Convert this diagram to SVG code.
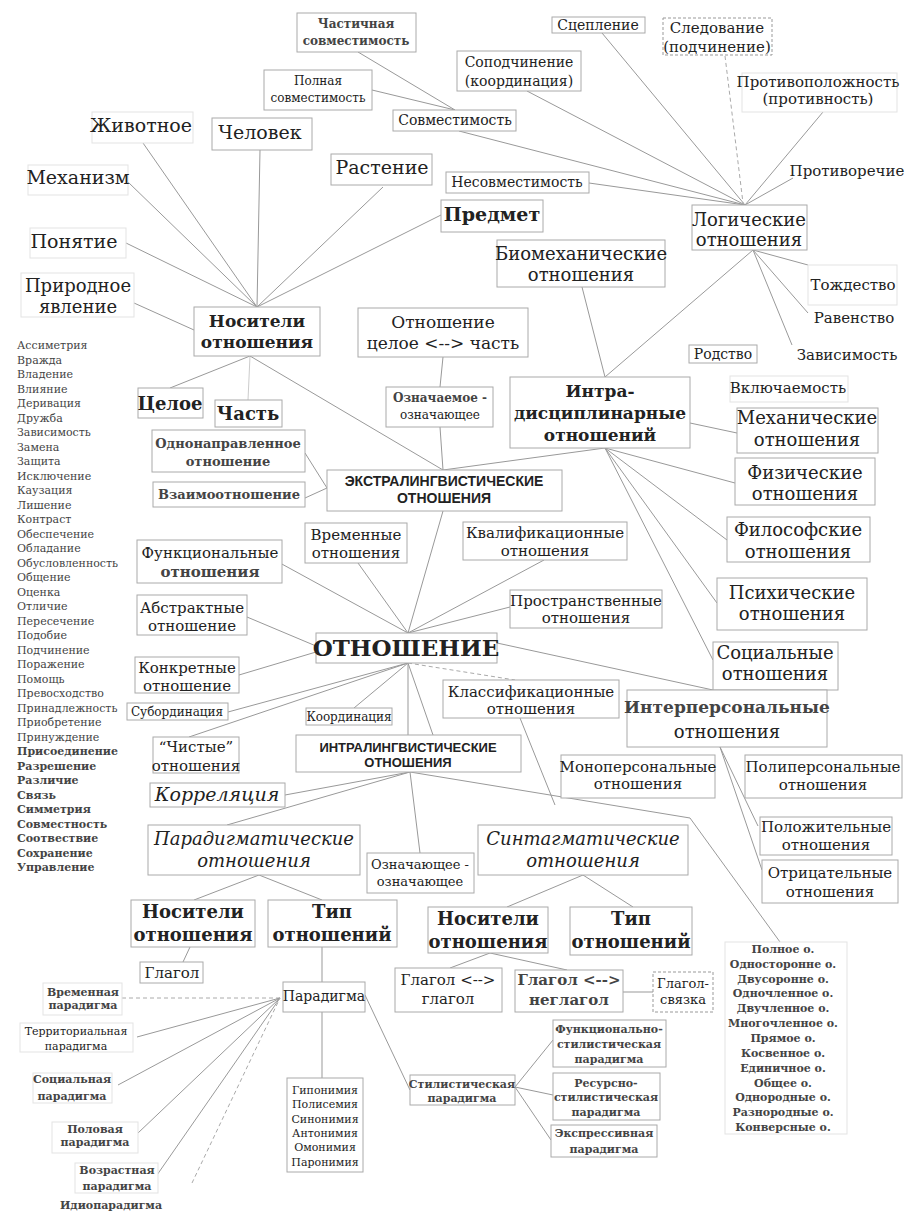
<svg xmlns="http://www.w3.org/2000/svg" width="905" height="1224" viewBox="0 0 905 1224">
<style>
text{font-family:"DejaVu Serif","Liberation Serif",serif;fill:#222;text-anchor:middle}
.b{fill:#fff;stroke:#aaa;stroke-width:1}
.bd{fill:#fff;stroke:#999;stroke-width:1;stroke-dasharray:3 2}
.bf{fill:#fff;stroke:#e3e3e3;stroke-width:1}
.c line,.c polyline{stroke:#999;stroke-width:1;fill:none}
.c .d{stroke-dasharray:4 3;stroke:#aaa}
.c .f{stroke:#ccc}
.s11{font-size:11px}.s12{font-size:12px}.s13{font-size:13px}.s14{font-size:14px}.s15{font-size:15px}
.s17{font-size:17px}.s18{font-size:18px}.s19{font-size:19px}.s20{font-size:20px}
.bo{font-weight:bold}.it{font-style:italic}.g{fill:#444}
.sans{font-family:"Liberation Sans","DejaVu Sans",sans-serif;font-weight:bold}
.l{text-anchor:start}
</style>
<rect width="905" height="1224" fill="#fff"/>
<g class="c" id="connectors">
<line x1="358" y1="52" x2="455" y2="110"/>
<line x1="372" y1="90" x2="455" y2="110"/>
<line x1="459" y1="131" x2="745" y2="205"/>
<line x1="527" y1="91" x2="745" y2="205"/>
<line x1="602" y1="33" x2="745" y2="205"/>
<line x1="589" y1="183" x2="745" y2="205"/>
<line class="d" x1="725" y1="56" x2="743" y2="203"/>
<line x1="823" y1="112" x2="745" y2="205"/>
<line x1="793" y1="178" x2="745" y2="205"/>
<line x1="753" y1="250" x2="808" y2="265"/>
<line x1="753" y1="250" x2="808" y2="313"/>
<line x1="753" y1="250" x2="792" y2="345"/>
<line x1="753" y1="250" x2="605" y2="377"/>
<line x1="582" y1="287" x2="605" y2="377"/>
<line x1="143" y1="143" x2="257" y2="307"/>
<line x1="260" y1="150" x2="257" y2="307"/>
<line x1="128" y1="182" x2="257" y2="307"/>
<line x1="383" y1="187" x2="257" y2="307"/>
<line x1="441" y1="215" x2="257" y2="307"/>
<line x1="126" y1="243" x2="257" y2="307"/>
<line x1="134" y1="303" x2="194" y2="330"/>
<line x1="250" y1="356" x2="170" y2="388"/>
<line class="f" x1="250" y1="356" x2="248" y2="400"/>
<line x1="250" y1="356" x2="443" y2="470"/>
<line x1="443" y1="357" x2="440" y2="387"/>
<line x1="440" y1="427" x2="443" y2="470"/>
<line x1="605" y1="448" x2="443" y2="470"/>
<line x1="305" y1="453" x2="327" y2="488"/>
<line x1="305" y1="498" x2="327" y2="488"/>
<line x1="690" y1="423" x2="737" y2="433"/>
<line x1="605" y1="448" x2="735" y2="483"/>
<line x1="605" y1="448" x2="727" y2="540"/>
<line x1="605" y1="448" x2="717" y2="603"/>
<line x1="605" y1="448" x2="713" y2="660"/>
<line x1="443" y1="511" x2="408" y2="633"/>
<line x1="280" y1="563" x2="408" y2="633"/>
<line x1="358" y1="563" x2="408" y2="633"/>
<line x1="544" y1="560" x2="408" y2="633"/>
<line x1="510" y1="607" x2="408" y2="633"/>
<line x1="247" y1="617" x2="316" y2="646"/>
<line x1="239" y1="675" x2="316" y2="652"/>
<line x1="497" y1="643" x2="713" y2="690"/>
<line x1="408" y1="663" x2="228" y2="712"/>
<line x1="408" y1="663" x2="189" y2="737"/>
<line x1="408" y1="663" x2="354" y2="708"/>
<line x1="408" y1="663" x2="408" y2="735"/>
<line x1="408" y1="663" x2="433" y2="735"/>
<line class="d" x1="408" y1="663" x2="515" y2="680"/>
<line x1="520" y1="718" x2="555" y2="805"/>
<line x1="410" y1="772" x2="285" y2="795"/>
<line x1="410" y1="772" x2="227" y2="825"/>
<line x1="410" y1="772" x2="420" y2="853"/>
<polyline points="410,772 690,818 780,942"/>
<line x1="720" y1="747" x2="758" y2="826"/>
<line x1="720" y1="747" x2="762" y2="870"/>
<line x1="259" y1="875" x2="194" y2="900"/>
<line x1="259" y1="875" x2="322" y2="900"/>
<line x1="583" y1="875" x2="507" y2="907"/>
<line x1="583" y1="875" x2="633" y2="907"/>
<line x1="190" y1="947" x2="183" y2="962"/>
<line x1="322" y1="947" x2="322" y2="982"/>
<line x1="490" y1="953" x2="450" y2="968"/>
<line x1="490" y1="953" x2="567" y2="970"/>
<line x1="623" y1="992" x2="653" y2="992"/>
<line class="d" x1="122" y1="998" x2="280" y2="998"/>
<line x1="137" y1="1037" x2="280" y2="998"/>
<line x1="118" y1="1085" x2="280" y2="998"/>
<line x1="138" y1="1133" x2="280" y2="998"/>
<line x1="157" y1="1175" x2="280" y2="998"/>
<line class="d" x1="192" y1="1183" x2="280" y2="998"/>
<line x1="322" y1="1012" x2="322" y2="1078"/>
<line x1="365" y1="995" x2="410" y2="1090"/>
<line x1="515" y1="1087" x2="553" y2="1040"/>
<line x1="515" y1="1087" x2="553" y2="1095"/>
<line x1="515" y1="1087" x2="551" y2="1140"/>
</g>

<g id="n-chastichnaya"><rect class="b" x="297" y="13" width="119" height="39"/><text class="s12 bo g" x="356" y="28">Частичная</text><text class="s12 bo g" x="356" y="45">совместимость</text></g>
<g id="n-polnaya"><rect class="b" x="264" y="70" width="108" height="40"/><text class="s12" x="318" y="85">Полная</text><text class="s12" x="318" y="102">совместимость</text></g>
<g id="n-sovmestimost"><rect class="b" x="393" y="110" width="123" height="21"/><text class="s14" x="455" y="125">Совместимость</text></g>
<g id="n-sopodchinenie"><rect class="b" x="457" y="51" width="124" height="40"/><text class="s14" x="519" y="67">Соподчинение</text><text class="s14" x="519" y="86">(координация)</text></g>
<g id="n-sceplenie"><rect class="b" x="552" y="17" width="93" height="16"/><text class="s14" x="598" y="30">Сцепление</text></g>
<g id="n-sledovanie"><rect class="bd" x="663" y="18" width="109" height="37"/><text class="s15" x="717" y="33">Следование</text><text class="s15" x="717" y="52">(подчинение)</text></g>
<g id="n-protivopolozhnost"><rect class="bf" x="742" y="73" width="155" height="39"/><text class="s15" x="818" y="87">Противоположность</text><text class="s15" x="818" y="104">(противность)</text></g>
<g id="n-protivorechie"><text class="s15" x="847" y="176">Противоречие</text></g>
<g id="n-logicheskie"><rect class="b" x="692" y="205" width="115" height="45"/><text class="s18" x="749" y="226">Логические</text><text class="s18" x="749" y="246">отношения</text></g>
<g id="n-tozhdestvo"><rect class="bf" x="808" y="265" width="89" height="40"/><text class="s15" x="853" y="290">Тождество</text></g>
<g id="n-ravenstvo"><text class="s15" x="854" y="323">Равенство</text></g>
<g id="n-zavisimost"><text class="s15" x="847" y="360">Зависимость</text></g>
<g id="n-rodstvo"><rect class="b" x="689" y="345" width="68" height="18"/><text class="s14" x="723" y="359">Родство</text></g>
<g id="n-vklyuchaemost"><rect class="bf" x="730" y="376" width="118" height="26"/><text class="s15" x="788" y="393">Включаемость</text></g>

<g id="n-zhivotnoe"><rect class="bf" x="92" y="112" width="101" height="31"/><text class="s19" x="141" y="132">Животное</text></g>
<g id="n-chelovek"><rect class="b" x="212" y="118" width="100" height="32"/><text class="s19" x="260" y="139">Человек</text></g>
<g id="n-mekhanizm"><rect class="bf" x="28" y="165" width="100" height="30"/><text class="s19" x="78" y="184">Механизм</text></g>
<g id="n-rastenie"><rect class="b" x="331" y="154" width="101" height="31"/><text class="s19" x="382" y="174">Растение</text></g>
<g id="n-nesovmestimost"><rect class="b" x="446" y="172" width="143" height="21"/><text class="s14" x="517" y="187">Несовместимость</text></g>
<g id="n-predmet"><rect class="b" x="441" y="200" width="102" height="32"/><text class="s19 bo" x="492" y="221">Предмет</text></g>
<g id="n-ponyatie"><rect class="bf" x="30" y="228" width="96" height="30"/><text class="s19" x="74" y="248">Понятие</text></g>
<g id="n-prirodnoe"><rect class="bf" x="21" y="273" width="113" height="44"/><text class="s18" x="78" y="292">Природное</text><text class="s18" x="78" y="313">явление</text></g>
<g id="n-biomekh"><rect class="b" x="497" y="240" width="168" height="47"/><text class="s18" x="581" y="260">Биомеханические</text><text class="s18" x="581" y="281">отношения</text></g>
<g id="n-nositeli"><rect class="b" x="194" y="307" width="126" height="49"/><text class="s17 bo" x="257" y="327">Носители</text><text class="s17 bo" x="257" y="348">отношения</text></g>
<g id="n-tseloe-chast"><rect class="b" x="358" y="308" width="170" height="49"/><text class="s17" x="443" y="328">Отношение</text><text class="s17" x="443" y="349">целое &lt;--&gt; часть</text></g>
<g id="n-tseloe"><rect class="b" x="138" y="388" width="65" height="30"/><text class="s18 bo" x="170" y="410">Целое</text></g>
<g id="n-chast"><rect class="b" x="215" y="400" width="67" height="27"/><text class="s18 bo" x="248" y="420">Часть</text></g>
<g id="n-oznachaemoe"><rect class="b" x="386" y="387" width="107" height="40"/><text class="s12 bo g" x="440" y="402">Означаемое -</text><text class="s12" x="440" y="419">означающее</text></g>
<g id="n-intradisc"><rect class="b" x="510" y="377" width="180" height="71"/><text class="s17 bo" x="600" y="397">Интра-</text><text class="s17 bo" x="600" y="419">дисциплинарные</text><text class="s17 bo" x="600" y="441">отношений</text></g>
<g id="n-mekhanicheskie"><rect class="b" x="737" y="408" width="141" height="45"/><text class="s18" x="807" y="424">Механические</text><text class="s18" x="807" y="446">отношения</text></g>
<g id="n-fizicheskie"><rect class="b" x="735" y="458" width="140" height="47"/><text class="s18" x="805" y="479">Физические</text><text class="s18" x="805" y="500">отношения</text></g>
<g id="n-filosofskie"><rect class="b" x="727" y="517" width="143" height="45"/><text class="s18" x="798" y="536">Философские</text><text class="s18" x="798" y="558">отношения</text></g>
<g id="n-psikhicheskie"><rect class="b" x="717" y="578" width="150" height="52"/><text class="s18" x="792" y="599">Психические</text><text class="s18" x="792" y="620">отношения</text></g>
<g id="n-socialnye"><rect class="b" x="713" y="642" width="125" height="48"/><text class="s18" x="775" y="659">Социальные</text><text class="s18" x="775" y="680">отношения</text></g>
<g id="n-odnonapr"><rect class="b" x="152" y="430" width="153" height="42"/><text class="s13 bo g" x="228" y="448">Однонаправленное</text><text class="s13 bo g" x="228" y="466">отношение</text></g>
<g id="n-vzaimo"><rect class="b" x="153" y="482" width="152" height="25"/><text class="s13 bo g" x="229" y="499">Взаимоотношение</text></g>
<g id="n-ekstra"><rect class="b" x="327" y="470" width="235" height="41"/><text class="sans s14" x="444" y="486">ЭКСТРАЛИНГВИСТИЧЕСКИЕ</text><text class="sans s14" x="444" y="503">ОТНОШЕНИЯ</text></g>
<g id="n-vremennye"><rect class="b" x="305" y="523" width="102" height="40"/><text class="s15" x="356" y="540">Временные</text><text class="s15" x="356" y="558">отношения</text></g>
<g id="n-kvalif"><rect class="b" x="463" y="522" width="164" height="38"/><text class="s15" x="545" y="538">Квалификационные</text><text class="s15" x="545" y="556">отношения</text></g>
<g id="n-funkc"><rect class="b" x="137" y="540" width="145" height="43"/><text class="s15" x="210" y="558">Функциональные</text><text class="s15 bo g" x="210" y="577">отношения</text></g>
<g id="n-abstr"><rect class="b" x="137" y="595" width="110" height="40"/><text class="s15" x="192" y="613">Абстрактные</text><text class="s15" x="192" y="631">отношение</text></g>
<g id="n-prostr"><rect class="b" x="510" y="590" width="152" height="38"/><text class="s15" x="586" y="606">Пространственные</text><text class="s15" x="586" y="623">отношения</text></g>
<g id="n-otnoshenie"><rect class="b" x="316" y="633" width="181" height="30"/><text class="bo" style="font-size:23px" x="406" y="656">ОТНОШЕНИЕ</text></g>
<g id="n-konkr"><rect class="b" x="135" y="657" width="104" height="36"/><text class="s15" x="187" y="673">Конкретные</text><text class="s15" x="187" y="691">отношение</text></g>
<g id="n-subord"><rect class="b" x="127" y="703" width="101" height="17"/><text class="s12" x="177" y="716">Субординация</text></g>
<g id="n-koord"><rect class="b" x="306" y="708" width="86" height="17"/><text class="s12" x="349" y="721">Координация</text></g>
<g id="n-klassif"><rect class="b" x="443" y="680" width="176" height="38"/><text class="s15" x="531" y="697">Классификационные</text><text class="s15" x="531" y="714">отношения</text></g>
<g id="n-interpers"><rect class="b" x="627" y="690" width="200" height="57"/><text class="s17 bo g" x="727" y="713">Интерперсональные</text><text class="s18" x="727" y="738">отношения</text></g>
<g id="n-chistye"><rect class="b" x="153" y="737" width="86" height="36"/><text class="s15" x="196" y="752">“Чистые”</text><text class="s15" x="196" y="771">отношения</text></g>
<g id="n-intraling"><rect class="b" x="296" y="735" width="225" height="37"/><text class="sans s13" x="408" y="752">ИНТРАЛИНГВИСТИЧЕСКИЕ</text><text class="sans s13" x="408" y="767">ОТНОШЕНИЯ</text></g>
<g id="n-mono"><rect class="b" x="561" y="755" width="154" height="43"/><text class="s15" x="638" y="772">Монoперсональные</text><text class="s15" x="638" y="789">отношения</text></g>
<g id="n-poli"><rect class="b" x="745" y="755" width="157" height="43"/><text class="s15" x="823" y="772">Полиперсональные</text><text class="s15" x="823" y="790">отношения</text></g>
<g id="n-polozh"><rect class="b" x="760" y="817" width="132" height="38"/><text class="s15" x="826" y="832">Положительные</text><text class="s15" x="826" y="850">отношения</text></g>
<g id="n-otric"><rect class="b" x="762" y="860" width="136" height="43"/><text class="s15" x="830" y="878">Отрицательные</text><text class="s15" x="830" y="897">отношения</text></g>
<g id="n-korrel"><rect class="b" x="150" y="783" width="135" height="24"/><text class="s19 it" x="217" y="801">Корреляция</text></g>
<g id="n-parad"><rect class="b" x="148" y="825" width="212" height="50"/><text class="s18 it" x="254" y="845">Парадигматические</text><text class="s18 it" x="254" y="867">отношения</text></g>
<g id="n-oznach2"><rect class="b" x="367" y="853" width="107" height="40"/><text class="s13" x="420" y="869">Означающее -</text><text class="s13" x="420" y="886">означающее</text></g>
<g id="n-sintag"><rect class="b" x="478" y="825" width="210" height="50"/><text class="s18 it" x="583" y="845">Синтагматические</text><text class="s18 it" x="583" y="867">отношения</text></g>
<g id="n-nos-left"><rect class="b" x="131" y="900" width="124" height="47"/><text class="s18 bo" x="193" y="918">Носители</text><text class="s18 bo" x="193" y="941">отношения</text></g>
<g id="n-tip-left"><rect class="b" x="268" y="900" width="129" height="47"/><text class="s18 bo" x="332" y="918">Тип</text><text class="s18 bo" x="332" y="941">отношений</text></g>
<g id="n-nos-right"><rect class="b" x="428" y="907" width="120" height="46"/><text class="s18 bo" x="488" y="925">Носители</text><text class="s18 bo" x="488" y="948">отношения</text></g>
<g id="n-tip-right"><rect class="b" x="570" y="907" width="122" height="48"/><text class="s18 bo" x="631" y="925">Тип</text><text class="s18 bo" x="631" y="948">отношений</text></g>
<g id="n-glagol"><rect class="b" x="140" y="962" width="63" height="21"/><text class="s15" x="172" y="978">Глагол</text></g>
<g id="n-gg"><rect class="b" x="395" y="968" width="107" height="44"/><text class="s15" x="448" y="985">Глагол &lt;--&gt;</text><text class="s15" x="448" y="1004">глагол</text></g>
<g id="n-gn"><rect class="b" x="515" y="970" width="108" height="42"/><text class="s15 bo g" x="569" y="985">Глагол &lt;--&gt;</text><text class="s15 bo g" x="569" y="1005">неглагол</text></g>
<g id="n-gsv"><rect class="bd" x="653" y="972" width="60" height="40"/><text class="s13" x="683" y="988">Глагол-</text><text class="s13" x="683" y="1004">связка</text></g>
<g id="n-paradigma"><rect class="b" x="283" y="982" width="82" height="30"/><text class="s14" x="324" y="1001">Парадигма</text></g>
<g id="n-vremennaya"><rect class="bf" x="43" y="983" width="79" height="32"/><text class="s11 bo g" x="83" y="996">Временная</text><text class="s11 bo g" x="83" y="1009">парадигма</text></g>
<g id="n-territ"><rect class="bf" x="20" y="1023" width="113" height="29"/><text class="s11" x="76" y="1035">Территориальная</text><text class="s11" x="76" y="1050">парадигма</text></g>
<g id="n-socialnaya"><rect class="bf" x="33" y="1073" width="79" height="30"/><text class="s11 bo g" x="72" y="1083">Социальная</text><text class="s11 bo g" x="72" y="1100">парадигма</text></g>
<g id="n-polovaya"><rect class="bf" x="52" y="1122" width="86" height="31"/><text class="s11 bo g" x="95" y="1133">Половая</text><text class="s11 bo g" x="95" y="1146">парадигма</text></g>
<g id="n-vozrast"><rect class="bf" x="75" y="1163" width="83" height="30"/><text class="s11 bo g" x="117" y="1174">Возрастная</text><text class="s11 bo g" x="117" y="1190">парадигма</text></g>
<g id="n-idio"><text class="s11 bo g" x="111" y="1209">Идиопарадигма</text></g>
<g id="n-giponimiya"><rect class="b" x="287" y="1078" width="76" height="94"/><text class="s11"><tspan x="325" y="1094">Гипонимия</tspan><tspan x="325" y="1108">Полисемия</tspan><tspan x="325" y="1123">Синонимия</tspan><tspan x="325" y="1137">Антонимия</tspan><tspan x="325" y="1151">Омонимия</tspan><tspan x="325" y="1166">Паронимия</tspan></text></g>
<g id="n-stilist"><rect class="b" x="410" y="1075" width="105" height="30"/><text class="s11 bo g" x="462" y="1088">Стилистическая</text><text class="s11 bo g" x="462" y="1102">парадигма</text></g>
<g id="n-funkc-stil"><rect class="b" x="553" y="1020" width="113" height="47"/><text class="s11 bo g" x="609" y="1033">Функционально-</text><text class="s11 bo g" x="609" y="1048">стилистическая</text><text class="s11 bo g" x="609" y="1063">парадигма</text></g>
<g id="n-resurs"><rect class="b" x="553" y="1073" width="107" height="47"/><text class="s11 bo g" x="606" y="1087">Ресурсно-</text><text class="s11 bo g" x="606" y="1101">стилистическая</text><text class="s11 bo g" x="606" y="1116">парадигма</text></g>
<g id="n-ekspress"><rect class="b" x="551" y="1125" width="106" height="32"/><text class="s11 bo g" x="604" y="1137">Экспрессивная</text><text class="s11 bo g" x="604" y="1153">парадигма</text></g>
<g id="n-polnoe"><rect class="bf" x="725" y="942" width="122" height="192"/><text class="s11 bo g"><tspan x="783" y="953">Полное о.</tspan><tspan x="783" y="968">Односторонне о.</tspan><tspan x="783" y="983">Двусоронне о.</tspan><tspan x="783" y="997">Одночленное о.</tspan><tspan x="783" y="1012">Двучленное о.</tspan><tspan x="783" y="1027">Многочленное о.</tspan><tspan x="783" y="1042">Прямое о.</tspan><tspan x="783" y="1057">Косвенное о.</tspan><tspan x="783" y="1072">Единичное о.</tspan><tspan x="783" y="1087">Общее о.</tspan><tspan x="783" y="1101">Однородные о.</tspan><tspan x="783" y="1116">Разнородные о.</tspan><tspan x="783" y="1131">Конверсные о.</tspan></text></g>
<g id="n-list"><text class="s11 l g"><tspan x="17" y="349">Ассиметрия</tspan><tspan x="17" y="363.5">Вражда</tspan><tspan x="17" y="378">Владение</tspan><tspan x="17" y="392.5">Влияние</tspan><tspan x="17" y="407">Деривация</tspan><tspan x="17" y="421.5">Дружба</tspan><tspan x="17" y="436">Зависимость</tspan><tspan x="17" y="450.5">Замена</tspan><tspan x="17" y="465">Защита</tspan><tspan x="17" y="479.5">Исключение</tspan><tspan x="17" y="494">Каузация</tspan><tspan x="17" y="508.5">Лишение</tspan><tspan x="17" y="523">Контраст</tspan><tspan x="17" y="537.5">Обеспечение</tspan><tspan x="17" y="552">Обладание</tspan><tspan x="17" y="566.5">Обусловленность</tspan><tspan x="17" y="581">Общение</tspan><tspan x="17" y="595.5">Оценка</tspan><tspan x="17" y="610">Отличие</tspan><tspan x="17" y="624.5">Пересечение</tspan><tspan x="17" y="639">Подобие</tspan><tspan x="17" y="653.5">Подчинение</tspan><tspan x="17" y="668">Поражение</tspan><tspan x="17" y="682.5">Помощь</tspan><tspan x="17" y="697">Превосходство</tspan><tspan x="17" y="711.5">Принадлежность</tspan><tspan x="17" y="726">Приобретение</tspan><tspan x="17" y="740.5">Принуждение</tspan></text><text class="s11 l bo g"><tspan x="17" y="755">Присоединение</tspan><tspan x="17" y="769.5">Разрешение</tspan><tspan x="17" y="784">Различие</tspan><tspan x="17" y="798.5">Связь</tspan><tspan x="17" y="813">Симметрия</tspan><tspan x="17" y="827.5">Совместность</tspan><tspan x="17" y="842">Соотвествие</tspan><tspan x="17" y="856.5">Сохранение</tspan><tspan x="17" y="871">Управление</tspan></text></g>
</svg>
